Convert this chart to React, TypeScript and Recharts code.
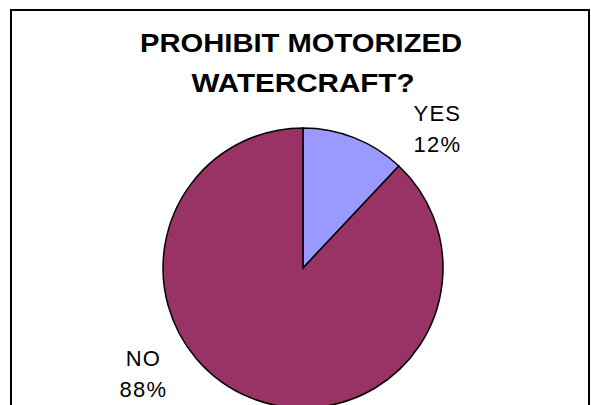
import { PieChart, Pie, Cell } from "recharts";

const categories = ["YES", "NO"];
const shares = [12, 88];
const titleLines = ["PROHIBIT MOTORIZED", "WATERCRAFT?"];

const sliceColors = ["#9999FF", "#993366"];

// label anchor offsets, in units of the pie radius
const labelOffsets: Record<string, [number, number]> = {
  YES: [0.96, -0.993],
  NO: [-1.14, 0.757],
};

const data = categories.map((name, i) => ({ name, value: shares[i] }));

const renderLabel = (props: any) => {
  const { cx, cy, outerRadius, name, value } = props;
  const [ox, oy] = labelOffsets[name] || [0, 0];
  const x = cx + ox * outerRadius;
  const y = cy + oy * outerRadius;
  return (
    <text
      x={x}
      y={y}
      textAnchor="middle"
      fill="#000"
      fontFamily="'Liberation Sans', Arial, sans-serif"
      fontSize={22}
      letterSpacing={1.2}
    >
      <tspan x={x} dy={-8}>
        {name}
      </tspan>
      <tspan x={x} dy={31}>
        {value}%
      </tspan>
    </text>
  );
};

const App = () => {
  return (
    <div
      style={{
        position: "absolute",
        left: 0,
        top: 0,
        width: 591,
        height: 405,
        background: "#fff",
        overflow: "hidden",
      }}
    >
      <div
        style={{
          position: "absolute",
          left: 10,
          top: 9,
          width: 576,
          height: 420,
          border: "2px solid #000",
        }}
      />
      <svg
        width={591}
        height={405}
        style={{ position: "absolute", left: 0, top: 0 }}
      >
        <text
          x={301}
          y={52}
          textAnchor="middle"
          fontFamily="'Liberation Sans', Arial, sans-serif"
          fontWeight="bold"
          fontSize={25}
          textLength={322}
          lengthAdjust="spacingAndGlyphs"
        >
          {titleLines[0]}
        </text>
        <text
          x={303}
          y={92}
          textAnchor="middle"
          fontFamily="'Liberation Sans', Arial, sans-serif"
          fontWeight="bold"
          fontSize={25}
          textLength={223}
          lengthAdjust="spacingAndGlyphs"
        >
          {titleLines[1]}
        </text>
      </svg>
      <div style={{ position: "absolute", left: 0, top: 0 }}>
        <PieChart width={591} height={405}>
          <Pie
            data={data}
            dataKey="value"
            nameKey="name"
            cx={298}
            cy={263}
            outerRadius={140}
            startAngle={90}
            endAngle={-270}
            stroke="#000"
            strokeWidth={1.5}
            label={renderLabel}
            labelLine={false}
            isAnimationActive={false}
          >
            {data.map((d, i) => (
              <Cell key={d.name} fill={sliceColors[i]} />
            ))}
          </Pie>
        </PieChart>
      </div>
    </div>
  );
};

export default App;
